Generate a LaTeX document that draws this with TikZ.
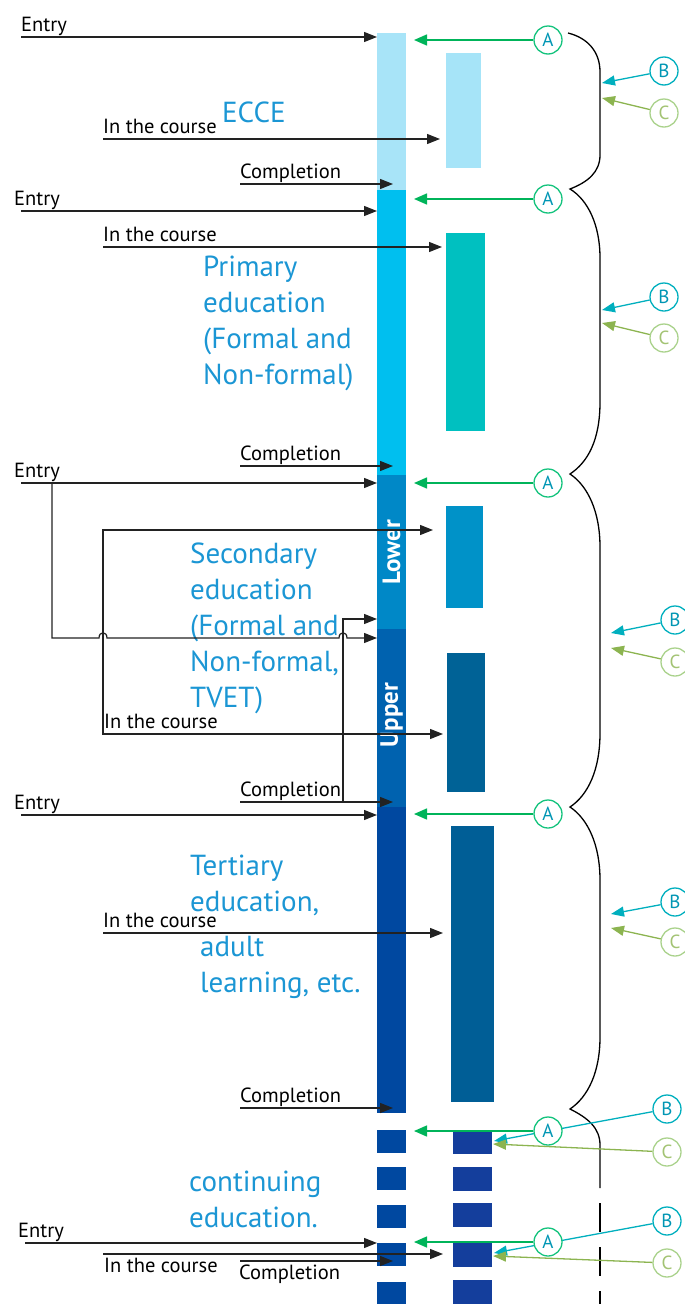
\documentclass[tikz,border=0pt]{standalone}
\usepackage{fontspec}
\setmainfont{PT Sans}
\usetikzlibrary{arrows.meta,calc}

\definecolor{ecceMain}{RGB}{168,228,248}
\definecolor{primMain}{RGB}{0,191,239}
\definecolor{lowMain}{RGB}{0,136,199}
\definecolor{upMain}{RGB}{0,98,175}
\definecolor{terMain}{RGB}{0,72,160}
\definecolor{ecceSide}{RGB}{166,228,248}
\definecolor{primSide}{RGB}{0,192,192}
\definecolor{lowSide}{RGB}{0,146,200}
\definecolor{upSide}{RGB}{0,98,150}
\definecolor{terSide}{RGB}{0,94,150}
\definecolor{contSide}{RGB}{20,62,156}
\definecolor{stageBlue}{RGB}{27,150,212}
\definecolor{flowGray}{RGB}{34,34,34}
\definecolor{aGreen}{RGB}{0,180,90}
\definecolor{aRing}{RGB}{20,195,125}
\definecolor{letterTeal}{RGB}{0,150,180}
\definecolor{bTeal}{RGB}{0,175,190}
\definecolor{cOlive}{RGB}{140,180,80}
\definecolor{cRing}{RGB}{170,210,140}

\begin{document}
\begin{tikzpicture}[x=1pt,y=-1pt,
    >={Triangle[length=13pt,width=10pt]},
    bar/.style={rectangle,inner sep=0pt,outer sep=0pt,anchor=north west},
    lbl/.style={anchor=base west,inner sep=0pt,font=\fontsize{20.5}{20.5}\selectfont},
    stage/.style={anchor=base west,inner sep=0pt,align=left,text=stageBlue,font=\fontsize{29}{36}\selectfont},
    flow/.style={draw=flowGray,line width=1.2pt},
    circA/.style={circle,draw=aRing,line width=1.3pt,fill=white,text=letterTeal,minimum size=28pt,inner sep=0pt,font=\fontsize{19}{19}\selectfont},
    circB/.style={circA,draw=bTeal},
    circC/.style={circA,draw=cRing,text=cOlive!80},
    aArrow/.style={draw=aGreen,line width=1.5pt,-{Triangle[length=13pt,width=11pt]}},
    bArrow/.style={draw=bTeal,line width=1.3pt,-{Triangle[length=13pt,width=10pt]}},
    cArrow/.style={draw=cOlive,line width=1.3pt,-{Triangle[length=13pt,width=10pt]}}]
\useasboundingbox (0,0) rectangle (685,1304);

\node[bar,fill=ecceMain,minimum width=29pt,minimum height=157pt] (ecceM) at (377,33) {};
\node[bar,fill=primMain,minimum width=29pt,minimum height=285pt] (primM) at (377,190) {};
\node[bar,fill=lowMain,minimum width=29pt,minimum height=154pt] (lowM) at (377,475) {};
\node[bar,fill=upMain,minimum width=29pt,minimum height=178pt] (upM) at (377,629) {};
\node[bar,fill=terMain,minimum width=29pt,minimum height=306pt] (terM) at (377,807) {};
\foreach \y [count=\i] in {1130,1167,1205,1243,1282}
    \node[bar,fill=terMain,minimum width=29pt,minimum height=23pt] (contM\i) at (377,\y) {};

\node[bar,fill=ecceSide,minimum width=35pt,minimum height=115pt] (ecceS) at (446,53) {};
\node[bar,fill=primSide,minimum width=39pt,minimum height=198pt] (primS) at (446,233) {};
\node[bar,fill=lowSide,minimum width=37pt,minimum height=102pt] (lowS) at (446,506) {};
\node[bar,fill=upSide,minimum width=38pt,minimum height=139pt] (upS) at (447,653) {};
\node[bar,fill=terSide,minimum width=43pt,minimum height=276pt] (terS) at (451,826) {};
\foreach \y [count=\i] in {1130,1167,1203,1243,1280}
    \node[bar,fill=contSide,minimum width=39pt,minimum height=24pt] (contS\i) at (453,\y) {};

\node[rotate=90,text=white,font=\bfseries\fontsize{25}{25}\selectfont] (lowTxt) at (391.5,552) {Lower};
\node[rotate=90,text=white,font=\bfseries\fontsize{25}{25}\selectfont] (upTxt) at (391.5,715) {Upper};

\node[stage] (ecceTxt) at (222,122) {ECCE};
\node[stage] (primTxt) at (203,384) {Primary\\education\\(Formal and\\Non-formal)};
\node[stage] (secTxt) at (190,707) {Secondary\\education\\(Formal and\\Non-formal,\\TVET)};
\node[stage] (terTxt) at (190,992) {Tertiary\\education,\\[9pt]\hspace*{10pt}adult\\\hspace*{10pt}learning, etc.};
\node[stage] (contTxt) at (189,1227) {continuing\\education.};

\coordinate (en1) at (21,37);
\coordinate (ic1) at (103,139);
\coordinate (cp1) at (240,184);
\coordinate (en2) at (21,211);
\coordinate (ic2) at (103,247);
\coordinate (cp2) at (240,466);
\coordinate (en3) at (21,483);
\coordinate (en3b) at (52,483);
\coordinate (ic3) at (103,734);
\coordinate (ic3t) at (433,530);
\coordinate (cp3) at (240,802);
\coordinate (cp3b) at (343,802);
\coordinate (en4) at (21,815);
\coordinate (ic4) at (103,933);
\coordinate (cp4) at (240,1108);
\coordinate (en5) at (25,1243);
\coordinate (ic5) at (103,1254);
\coordinate (cp5) at (240,1261);

\node[lbl] (en1l) at (21,31) {Entry};
\node[lbl] (ic1l) at (103,133) {In the course};
\node[lbl] (cp1l) at (240,178) {Completion};
\node[lbl] (en2l) at (14,205) {Entry};
\node[lbl] (ic2l) at (103,241) {In the course};
\node[lbl] (cp2l) at (240,460) {Completion};
\node[lbl] (en3l) at (14,477) {Entry};
\node[lbl] (ic3l) at (104,728) {In the course};
\node[lbl] (cp3l) at (240,796) {Completion};
\node[lbl] (en4l) at (14,809) {Entry};
\node[lbl] (ic4l) at (103,927) {In the course};
\node[lbl] (cp4l) at (240,1102) {Completion};
\node[lbl] (en5l) at (18,1237) {Entry};
\node[lbl] (ic5l) at (104,1272) {In the course};
\node[lbl] (cp5l) at (239,1279) {Completion};

\draw [flow,->] (en1) -- (en1 -| ecceM.west);
\draw [flow,->] (ic1) -- ($(ic1 -| ecceS.west)+(-6,0)$);
\draw [flow,->] (cp1) -- ($(cp1 -| ecceM.west)+(16,0)$);
\draw [flow,->] (en2) -- (en2 -| primM.west);
\draw [flow,->] (ic2) -- ($(ic2 -| primS.west)+(-4,0)$);
\draw [flow,->] (cp2) -- ($(cp2 -| primM.west)+(16,0)$);
\draw [flow,->] (en3) -- (en3 -| lowM.west);
\draw [flow,->] (en3b) -- (52,638) -- (99,638) .. controls (99,631) and (107,631) .. (107,638)
    -- (339,638) .. controls (339,631) and (347,631) .. (347,638) -- ($(upM.north west)+(0,9)$);
\draw [flow,<->] (ic3t) -- (ic3t -| ic3) -- (ic3) -- ($(ic3 -| upS.west)+(-4,0)$);
\draw [flow,->] (cp3) -- ($(cp3 -| upM.west)+(16,0)$);
\draw [flow,->] (cp3b) |- ($(lowM.south west)+(0,-10)$);
\draw [flow,->] (en4) -- (en4 -| terM.west);
\draw [flow,->] (ic4) -- ($(ic4 -| terS.west)+(-8,0)$);
\draw [flow,->] (cp4) -- ($(cp4 -| terM.west)+(16,0)$);
\draw [flow,->] (en5) -- (en5 -| contM4.west);
\draw [flow,->] (ic5) -- ($(ic5 -| contS4.west)+(-10,0)$);
\draw [flow,->] (cp5) -- ($(cp5 -| contM4.west)+(16,0)$);

\draw[line width=1.3pt] (568,33) .. controls (588,38) and (600,52) .. (600,72) -- (600,155)
    .. controls (600,172) and (588,182) .. (570,189)
    .. controls (588,200) and (600,225) .. (600,258) -- (600,402)
    .. controls (600,440) and (588,462) .. (570,474)
    .. controls (588,486) and (600,512) .. (600,547) -- (600,733)
    .. controls (600,770) and (588,795) .. (570,807)
    .. controls (588,819) and (600,845) .. (600,880) -- (600,1037)
    .. controls (600,1072) and (588,1097) .. (570,1109)
    .. controls (588,1118) and (600,1128) .. (600,1145) -- (600,1188);
\draw[line width=1.3pt,dash pattern=on 29pt off 15pt] (600,1203) -- (600,1310);

\node[circB] (b1) at (664,71) {B};
\node[circC] (c1) at (664,113) {C};
\node[circB] (b2) at (664,297) {B};
\node[circC] (c2) at (664,338) {C};
\node[circB] (b3) at (675,620) {B};
\node[circC] (c3) at (675,662) {C};
\node[circB] (b4) at (675,902) {B};
\node[circC] (c4) at (675,942) {C};
\node[circB] (b5) at (667,1109) {B};
\node[circC] (c5) at (667,1152) {C};
\node[circB] (b6) at (667,1221) {B};
\node[circC] (c6) at (667,1263) {C};

\coordinate (tb1) at (602,83);
\coordinate (tc1) at (602,98);
\coordinate (tb2) at (602,310);
\coordinate (tc2) at (602,323);
\coordinate (tb3) at (611,633);
\coordinate (tc3) at (611,648);
\coordinate (tb4) at (611,914);
\coordinate (tc4) at (611,928);
\coordinate (tb5) at (494,1141);
\coordinate (tc5) at (493,1144);
\coordinate (tb6) at (494,1253);
\coordinate (tc6) at (493,1256);

\foreach \i in {1,...,6} {
    \draw[bArrow] (b\i) -- (tb\i);
    \draw[cArrow] (c\i) -- (tc\i);
}

\coordinate (ax) at (414,0);
\node[circA] (a1) at (548,40) {A};
\node[circA] (a2) at (548,199) {A};
\node[circA] (a3) at (548,483) {A};
\node[circA] (a4) at (548,814) {A};
\node[circA] (a5) at (548,1131) {A};
\node[circA] (a6) at (548,1242) {A};
\foreach \i in {1,...,6}
    \draw[aArrow] (a\i) -- (a\i -| ax);
\end{tikzpicture}
\end{document}
